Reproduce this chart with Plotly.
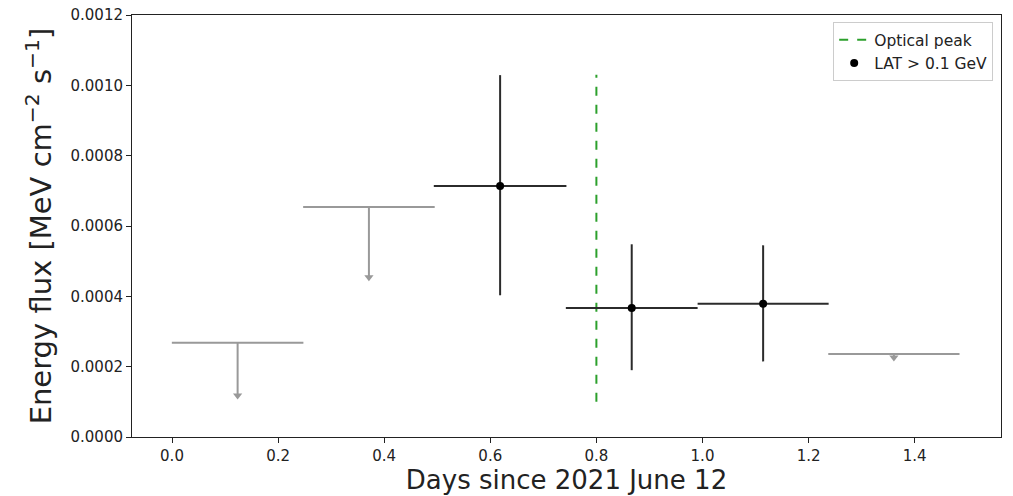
import plotly.graph_objects as go

# Fermi-LAT light curve: energy flux per time bin
# Detected bins
det_x = [0.6185, 0.8666, 1.1143]
det_xerr = [0.1250, 0.1242, 0.1235]
det_flux = [0.000714, 0.000367, 0.000379]
det_err_up = [0.000315, 0.000181, 0.000166]
det_err_lo = [0.000311, 0.000177, 0.000164]

# Upper-limit bins (value and arrow length)
ul_x = [0.1237, 0.3712, 1.3608]
ul_xerr = [0.1240, 0.1240, 0.1237]
ul_flux = [0.000268, 0.000654, 0.000236]
ul_arrow = [0.000150, 0.000200, 0.000010]

# Optical peak marker
opt_x = [0.8, 0.8]
opt_y = [0.000100, 0.001030]

x_ticks = [0.0, 0.2, 0.4, 0.6, 0.8, 1.0, 1.2, 1.4]
y_ticks = [0.0, 0.0002, 0.0004, 0.0006, 0.0008, 0.0010, 0.0012]

font_family = "DejaVu Sans"
ul_color = "#999999"
det_line = "#2b2b2b"

fig = go.Figure()

# Upper limits: horizontal bin width plus downward stem
fig.add_trace(go.Scatter(
    x=ul_x, y=ul_flux, mode="markers",
    marker=dict(size=1, color=ul_color, opacity=0),
    error_x=dict(type="data", array=ul_xerr, symmetric=True,
                 color=ul_color, thickness=2, width=0),
    error_y=dict(type="data", array=[0, 0, 0], arrayminus=ul_arrow,
                 symmetric=False, color=ul_color, thickness=2, width=0),
    showlegend=False, hoverinfo="skip",
))
# Arrow heads at the ends of the stems
fig.add_trace(go.Scatter(
    x=ul_x, y=[f - a for f, a in zip(ul_flux, ul_arrow)], mode="markers",
    marker=dict(symbol="triangle-down", size=8, color=ul_color),
    showlegend=False, hoverinfo="skip",
))

# Optical peak line
fig.add_trace(go.Scatter(
    x=opt_x, y=opt_y, mode="lines",
    line=dict(color="#2ca02c", width=2, dash="dash"),
    name="Optical peak",
))

# Detections
fig.add_trace(go.Scatter(
    x=det_x, y=det_flux, mode="markers",
    marker=dict(size=8, color="black"),
    error_x=dict(type="data", array=det_xerr, symmetric=True,
                 color=det_line, thickness=2, width=0),
    error_y=dict(type="data", array=det_err_up, arrayminus=det_err_lo,
                 symmetric=False, color=det_line, thickness=2, width=0),
    name="LAT > 0.1 GeV",
))

fig.update_layout(
    width=1013, height=496,
    margin=dict(l=132, r=12, t=15, b=59),
    paper_bgcolor="white", plot_bgcolor="white",
    font=dict(family=font_family, size=15, color="#222222"),
    legend=dict(
        x=0.991, y=0.983, xanchor="right", yanchor="top",
        bgcolor="rgba(255,255,255,0.8)", bordercolor="#cccccc", borderwidth=1,
        font=dict(size=15.5, family=font_family, color="#222222"),
        tracegroupgap=2, itemwidth=30,
    ),
)

fig.update_xaxes(
    range=[-0.0754, 1.5627], automargin=False,
    tickvals=x_ticks, ticktext=[f"{v:.1f}" for v in x_ticks],
    ticks="outside", ticklen=5, tickwidth=1, tickcolor="#222222",
    showline=True, linecolor="#222222", linewidth=1, mirror=True,
    showgrid=False, zeroline=False,
    tickfont=dict(size=15),
    title=dict(text="Days since 2021 June 12", font=dict(size=26), standoff=6),
)
fig.update_yaxes(
    range=[0, 0.0012], automargin=False,
    tickvals=y_ticks, ticktext=[f"{v:.4f}" for v in y_ticks],
    ticks="outside", ticklen=5, tickwidth=1, tickcolor="#222222",
    showline=True, linecolor="#222222", linewidth=1, mirror=True,
    showgrid=False, zeroline=False,
    tickfont=dict(size=15),
    title=dict(text="Energy flux [MeV cm<sup>−2</sup> s<sup>−1</sup>]",
               font=dict(size=29), standoff=10),
)

fig.write_html("out.html")
